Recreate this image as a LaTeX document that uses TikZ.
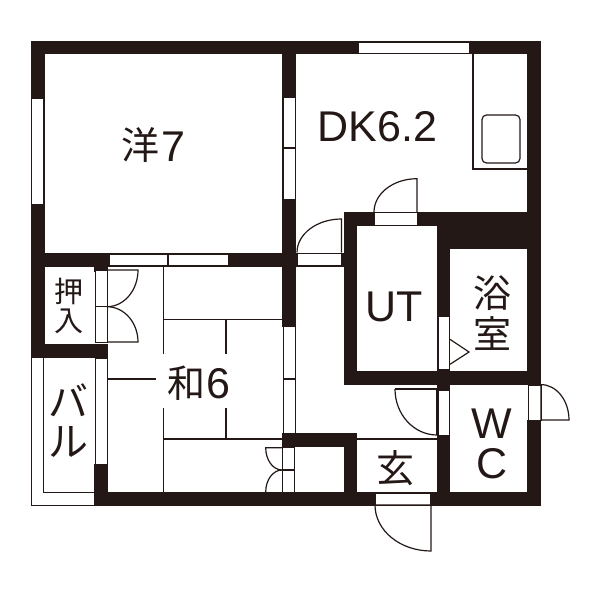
\documentclass[tikz,border=0pt]{standalone}
\usepackage{fontspec}
\setmainfont{Liberation Sans}
\newfontfamily\cjk{Noto Sans CJK JP}
\definecolor{wallc}{HTML}{231815}
\tikzset{
  wall/.style={fill=wallc,draw=none},
  win/.style={fill=white,draw=wallc,line width=0.9pt},
  thin/.style={draw=wallc,line width=1.2pt},
  lbl/.style={inner sep=0pt,text=wallc,font=\fontsize{43}{43}\selectfont},
  jp/.style={inner sep=0pt,text=wallc,font=\cjk\fontsize{38}{38}\selectfont},
  jpk/.style={inner sep=0pt,text=wallc,font=\cjk\fontsize{40}{40}\selectfont},
  jps/.style={inner sep=0pt,text=wallc,font=\cjk\fontsize{29}{29}\selectfont}
}
\begin{document}
\begin{tikzpicture}[x=1pt,y=-1pt]
\useasboundingbox (0,0) rectangle (600,600);
% walls
\fill[wall] (31,41) rectangle (541,54);
\fill[wall] (31,41) rectangle (44.5,266);
\fill[wall] (527,41) rectangle (541,384.5);
\fill[wall] (527,420) rectangle (541,505.7);
\fill[wall] (282,41) rectangle (296,326.7);
\fill[wall] (31,253) rectangle (344,266.5);
\fill[wall] (31,253) rectangle (44.5,357.7);
\fill[wall] (31,344) rectangle (107.5,357.7);
\fill[wall] (94,253) rectangle (107.5,272);
\fill[wall] (94,464) rectangle (107.5,505.7);
\fill[wall] (94,492) rectangle (541,505.7);
\fill[wall] (344,212) rectangle (357,384.5);
\fill[wall] (344,212) rectangle (527,226);
\fill[wall] (437,212) rectangle (527,249);
\fill[wall] (437,212) rectangle (450,505.7);
\fill[wall] (344,370.7) rectangle (541,384.5);
\fill[wall] (282,433) rectangle (357,447);
\fill[wall] (344,433) rectangle (357,505.7);
% windows and openings
\draw[win] (31.5,98) rectangle (43.5,204);
\draw[win] (283,97) rectangle (295,199);
\draw[thin] (283,148) -- (295,148);
\draw[win] (109,254) rectangle (228,265.5);
\draw[thin] (168,254) -- (168,265.5);
\draw[win] (358,42) rectangle (469,53);
\draw[win] (283,326.7) rectangle (295,433);
\draw[thin] (283,379) -- (295,379);
\draw[win] (297,253.5) rectangle (341,265);
\draw[win] (374,212.5) rectangle (417,225.5);
\draw[win] (438,316) rectangle (449,369);
\draw[win] (438,390) rectangle (449,435);
\draw[win] (528,385) rectangle (541,420);
\draw[win] (375,493) rectangle (430.5,505);
\draw[win] (95.5,270.5) rectangle (107,342.5);
\draw[thin] (95.5,306.7) -- (107,306.7);
\draw[win] (95.5,358) rectangle (107,464);
\draw[win] (282,447) rectangle (294.3,492);
\draw[thin] (282,470) -- (294.3,470);
% kitchen
\draw[thin] (473,54) -- (473,169) -- (527,169);
\draw[thin,rounded corners=4.5pt] (482,115) rectangle (520,163);
% door leaves
\draw[thin] (374,212) arc[start angle=180,end angle=270,x radius=43,y radius=33.3] -- (417,212);
\draw[thin] (297,252.5) arc[start angle=180,end angle=270,x radius=44.5,y radius=33.5] -- (341.5,252.5);
\draw[thin] (395,389) arc[start angle=180,end angle=90,x radius=42,y radius=46];
\draw[thin] (395,389) -- (437,389) -- (437,435);
\draw[thin] (541,384.6) arc[start angle=-90,end angle=0,x radius=28,y radius=35.4] -- (541,420) -- cycle;
\draw[thin] (375,505) arc[start angle=180,end angle=90,x radius=56,y radius=46] -- (431,505) -- cycle;
\draw[thin] (450,339.3) -- (469,352) -- (450,364.3);
\draw[thin] (107,270) -- (138,270) arc[start angle=0,end angle=90,x radius=31,y radius=36.7];
\draw[thin] (107,342) -- (138,342) arc[start angle=0,end angle=-90,x radius=31,y radius=35.3];
\draw[thin] (282,447.7) -- (265.7,447.7) arc[start angle=180,end angle=90,x radius=16.3,y radius=22.3];
\draw[thin] (282,470) arc[start angle=-90,end angle=-180,x radius=16.3,y radius=22];
% balcony
\draw[thin] (31.5,357.7) -- (31.5,505.2) -- (94,505.2);
\draw[thin] (43.5,357.7) -- (43.5,492.7) -- (94,492.7);
% tatami
\draw[thin] (163.3,266) -- (163.3,354) (163.3,408) -- (163.3,492);
\draw[thin] (163.3,319.3) -- (282,319.3);
\draw[thin] (163.3,439) -- (282,439);
\draw[thin] (226,319.3) -- (226,354) (226,408) -- (226,439);
\draw[thin] (107,379) -- (156,379);
\draw[thin] (357,439) -- (437,439);
% labels
\node[jp,anchor=center] (yo) at (140,145) {洋};
\node[lbl,anchor=base west] (seven) at (161,161) {7};
\node[lbl,anchor=base west] (dk) at (317.5,141) {DK6.2};
\node[lbl,anchor=base] (ut) at (394.5,321) {UT};
\node[jp,anchor=center] (yoku) at (492,293) {浴};
\node[jp,anchor=center] (shitsu) at (492,334) {室};
\node[lbl,anchor=base] (w) at (491.7,438) {W};
\node[lbl,anchor=base] (c) at (491.7,478.5) {C};
\node[jp,anchor=center] (gen) at (395,468) {玄};
\node[jp,anchor=center] (wa) at (186,383) {和};
\node[lbl,anchor=base west] (six) at (206,398) {6};
\node[jps,anchor=center] (oshi) at (68.5,291) {押};
\node[jps,anchor=center] (iri) at (68.5,321) {入};
\node[jpk,anchor=center] (ba) at (68,400.5) {バ};
\node[jpk,anchor=center] (ru) at (68,441.5) {ル};
\end{tikzpicture}
\end{document}
